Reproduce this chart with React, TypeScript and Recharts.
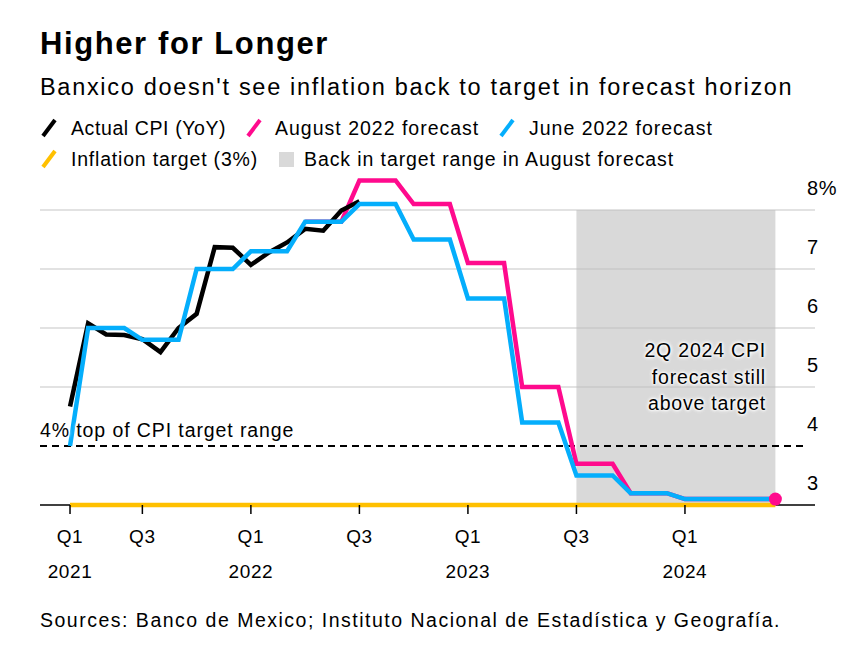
import React from 'react';
import {
  ComposedChart,
  Line,
  XAxis,
  YAxis,
  CartesianGrid,
  ReferenceArea,
  ReferenceLine,
} from 'recharts';

const FONT = '"Liberation Sans", Arial, Helvetica, sans-serif';

// Monthly positions, Mar 2021 .. Jun 2024
const START_YEAR = 2021;
const START_MONTH = 2; // March, zero based
const MONTH_COUNT = 40;
const months = Array.from({ length: MONTH_COUNT }, (_, i) => {
  const m = START_MONTH + i;
  return `${START_YEAR + Math.floor(m / 12)}-${String((m % 12) + 1).padStart(2, '0')}`;
});

// Actual CPI, YoY %, Mar 2021 .. Jul 2022
const actualCpi = [
  4.67, 6.08, 5.89, 5.88, 5.81, 5.59, 6.0, 6.24, 7.37, 7.36, 7.07, 7.28, 7.45, 7.68, 7.65,
  7.99, 8.15,
];

// Quarterly forecasts, 1Q21 .. 2Q24
const quarters = [
  '1Q21', '2Q21', '3Q21', '4Q21', '1Q22', '2Q22', '3Q22',
  '4Q22', '1Q23', '2Q23', '3Q23', '4Q23', '1Q24', '2Q24',
];
const juneForecast = [4.0, 6.0, 5.8, 7.0, 7.3, 7.8, 8.1, 7.5, 6.5, 4.4, 3.5, 3.2, 3.1, 3.1];
const augustForecast = [null, null, null, null, null, 7.8, 8.5, 8.1, 7.1, 5.0, 3.7, 3.2, 3.1, 3.1];

const inflationTarget = 3;
const targetRangeTop = 4;

const yTicks = [3, 4, 5, 6, 7, 8];
const yTickLabels = ['3', '4', '5', '6', '7', '8%'];

// tick index into months
const xTicks = [0, 4, 10, 16, 22, 28, 34];
const xTickQuarter = ['Q1', 'Q3', 'Q1', 'Q3', 'Q1', 'Q3', 'Q1'];
const xTickYear = ['2021', '', '2022', '', '2023', '', '2024'];

// x domain padding (in months) around the data
const xDomain = [-1.66, 41.19];

// shaded: back in target range in August forecast (Jul 2023 .. Jun 2024)
const shadeFrom = 28;
const shadeTo = 39;

const chartData = months.map((month, i) => {
  const q = Math.floor((START_MONTH + i) / 3);
  return {
    i,
    month,
    quarter: quarters[q],
    actual: i < actualCpi.length ? actualCpi[i] : null,
    june: juneForecast[q],
    august: augustForecast[q],
    target: inflationTarget,
  };
});

const COLORS = {
  actual: '#000000',
  august: '#ff0a8d',
  june: '#04aefc',
  target: '#ffc000',
  shade: '#c0c0c0',
  grid: '#d8d8d8',
};

const halo = '0 0 2px #fff, 0 0 3px #fff, 0 0 4px #fff, 0 0 4px #fff';

function XTick({ x, y, payload }: any) {
  const idx = xTicks.indexOf(payload.value);
  return (
    <g>
      <text x={x} y={y + 27} textAnchor="middle" fontFamily={FONT} fontSize={19} letterSpacing={0.6} fill="#000">
        {xTickQuarter[idx]}
      </text>
      <text x={x} y={y + 62} textAnchor="middle" fontFamily={FONT} fontSize={19} letterSpacing={0.6} fill="#000">
        {xTickYear[idx]}
      </text>
    </g>
  );
}

function YTick({ x, y, payload }: any) {
  const idx = yTicks.indexOf(payload.value);
  return (
    <text x={x - 8} y={y - 15} textAnchor="start" fontFamily={FONT} fontSize={20} letterSpacing={0.6} fill="#000">
      {yTickLabels[idx]}
    </text>
  );
}

function EndDot({ cx, cy, index }: any) {
  if (index !== MONTH_COUNT - 1) return null;
  return <circle cx={cx} cy={cy} r={6.5} fill={COLORS.august} />;
}

function LegendIcon({ color }: { color: string }) {
  return (
    <svg width={18} height={20} style={{ display: 'block' }}>
      <line x1={3} y1={18} x2={15} y2={2} stroke={color} strokeWidth={4} />
    </svg>
  );
}

const legendText: React.CSSProperties = {
  position: 'absolute',
  fontSize: 19.5,
  lineHeight: '22px',
  letterSpacing: 0.9,
  whiteSpace: 'nowrap',
};

export default function App() {
  return (
    <div
      style={{
        position: 'absolute',
        left: 0,
        top: 0,
        width: 867,
        height: 653,
        background: '#fff',
        fontFamily: FONT,
        color: '#000',
        overflow: 'hidden',
      }}
    >
      <div style={{ position: 'absolute', left: 0, top: 0 }}>
        <ComposedChart
          width={867}
          height={653}
          data={chartData}
          margin={{ top: 180.5, right: 0, bottom: 108, left: 40 }}
        >
          <CartesianGrid
            vertical={false}
            stroke={COLORS.grid}
            strokeWidth={1.5}
            horizontalValues={[5, 6, 7, 8]}
          />
          <ReferenceArea
            x1={shadeFrom}
            x2={shadeTo}
            y1={inflationTarget}
            y2={8}
            fill={COLORS.shade}
            fillOpacity={0.6}
            stroke="none"
            ifOverflow="visible"
          />
          <ReferenceLine
            stroke="#000"
            strokeWidth={2}
            strokeDasharray="7 5"
            segment={[
              { x: xDomain[0], y: targetRangeTop },
              { x: 40.65, y: targetRangeTop },
            ]}
          />
          {/* baseline, only where the target line does not cover it */}
          <ReferenceLine
            stroke="#000"
            strokeWidth={1.5}
            segment={[
              { x: xDomain[0], y: inflationTarget },
              { x: 0, y: inflationTarget },
            ]}
          />
          <ReferenceLine
            stroke="#000"
            strokeWidth={1.5}
            segment={[
              { x: MONTH_COUNT - 1, y: inflationTarget },
              { x: xDomain[1], y: inflationTarget },
            ]}
          />
          <XAxis
            dataKey="i"
            type="number"
            domain={xDomain}
            ticks={xTicks}
            height={40}
            axisLine={false}
            tickLine={{ stroke: '#000', strokeWidth: 1.5 }}
            tickSize={9}
            tick={<XTick />}
            interval={0}
          />
          <YAxis
            orientation="right"
            type="number"
            domain={[3, 8.5]}
            ticks={yTicks}
            width={52}
            axisLine={false}
            tickLine={false}
            tickSize={0}
            tickMargin={0}
            tick={<YTick />}
            interval={0}
          />
          <Line
            dataKey="target"
            stroke={COLORS.target}
            strokeWidth={4.5}
            dot={false}
            isAnimationActive={false}
          />
          <Line
            dataKey="august"
            stroke={COLORS.august}
            strokeWidth={4.5}
            dot={<EndDot />}
            isAnimationActive={false}
            connectNulls={false}
          />
          <Line
            dataKey="actual"
            stroke={COLORS.actual}
            strokeWidth={4.5}
            dot={false}
            isAnimationActive={false}
          />
          <Line
            dataKey="june"
            stroke={COLORS.june}
            strokeWidth={4.5}
            dot={false}
            isAnimationActive={false}
          />
        </ComposedChart>
      </div>

      <div
        style={{
          position: 'absolute',
          left: 40,
          top: 26,
          fontSize: 31,
          fontWeight: 700,
          lineHeight: '36px',
          letterSpacing: 1.6,
          whiteSpace: 'nowrap',
        }}
      >
        Higher for Longer
      </div>
      <div
        style={{
          position: 'absolute',
          left: 40,
          top: 73,
          fontSize: 23.5,
          lineHeight: '28px',
          letterSpacing: 1.7,
          whiteSpace: 'nowrap',
        }}
      >
        Banxico doesn't see inflation back to target in forecast horizon
      </div>

      {/* legend */}
      <div style={{ position: 'absolute', left: 40, top: 118 }}>
        <LegendIcon color={COLORS.actual} />
      </div>
      <div style={{ ...legendText, left: 71, top: 117, letterSpacing: 0.6 }}>Actual CPI (YoY)</div>
      <div style={{ position: 'absolute', left: 245, top: 118 }}>
        <LegendIcon color={COLORS.august} />
      </div>
      <div style={{ ...legendText, left: 275, top: 117, letterSpacing: 1.0 }}>August 2022 forecast</div>
      <div style={{ position: 'absolute', left: 498, top: 118 }}>
        <LegendIcon color={COLORS.june} />
      </div>
      <div style={{ ...legendText, left: 529, top: 117, letterSpacing: 1.0 }}>June 2022 forecast</div>

      <div style={{ position: 'absolute', left: 40, top: 149 }}>
        <LegendIcon color={COLORS.target} />
      </div>
      <div style={{ ...legendText, left: 71, top: 148, letterSpacing: 0.8 }}>Inflation target (3%)</div>
      <div
        style={{
          position: 'absolute',
          left: 279,
          top: 152,
          width: 15,
          height: 15,
          background: '#d9d9d9',
        }}
      />
      <div style={{ ...legendText, left: 304, top: 148 }}>
        Back in target range in August forecast
      </div>

      {/* annotations */}
      <div
        style={{
          position: 'absolute',
          left: 40,
          top: 419,
          fontSize: 19.5,
          lineHeight: '22px',
          letterSpacing: 0.9,
          whiteSpace: 'nowrap',
          textShadow: halo,
        }}
      >
        4% top of CPI target range
      </div>
      <div
        style={{
          position: 'absolute',
          right: 867 - 766,
          top: 337,
          fontSize: 19.5,
          lineHeight: '26.5px',
          letterSpacing: 0.8,
          textAlign: 'right',
          whiteSpace: 'nowrap',
          textShadow: halo,
        }}
      >
        2Q 2024 CPI
        <br />
        forecast still
        <br />
        above target
      </div>

      <div
        style={{
          position: 'absolute',
          left: 40,
          top: 608,
          fontSize: 19.5,
          lineHeight: '24px',
          letterSpacing: 1.5,
          whiteSpace: 'nowrap',
        }}
      >
        Sources: Banco de Mexico; Instituto Nacional de Estadística y Geografía.
      </div>
    </div>
  );
}
